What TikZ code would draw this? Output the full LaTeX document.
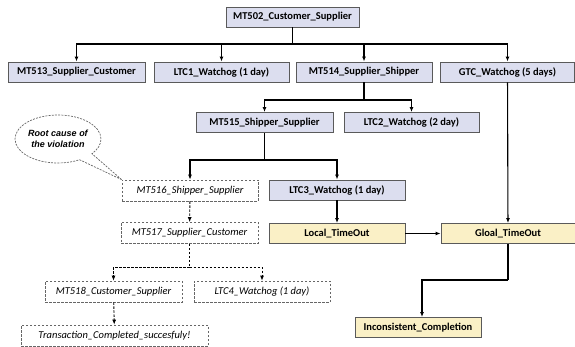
\documentclass[tikz,border=0pt]{standalone}
\usepackage{fontspec}
\setmainfont{Carlito}
\newfontfamily\calloutfont{Liberation Sans}
\usetikzlibrary{arrows.meta,shapes.callouts}
\definecolor{lav}{HTML}{DCDEEF}
\definecolor{sand}{HTML}{FAF0C6}
\definecolor{edgegray}{HTML}{5A5A5A}
\tikzset{
  box/.style={draw=edgegray, line width=0.9pt, minimum height=20pt, inner sep=0pt, font=\fontsize{10.5}{12}\selectfont\bfseries},
  msgbox/.style={box, fill=lav},
  outbox/.style={box, fill=sand},
  ghost/.style={draw=gray!80!black, dashed, dash pattern=on 2.5pt off 1.5pt, line width=0.7pt, minimum height=21pt, inner sep=0pt, font=\fontsize{10.5}{12}\selectfont\itshape},
  arr/.style={line width=1.1pt, -{Latex[length=5pt,width=4pt]}},
  link/.style={line width=1.1pt},
  darr/.style={line width=0.9pt, dash pattern=on 2.5pt off 1.5pt, -{Latex[length=5pt,width=4pt]}},
  dlink/.style={line width=0.9pt, dash pattern=on 2.5pt off 1.5pt},
}
\begin{document}
\begin{tikzpicture}[x=1pt,y=-1pt]
\useasboundingbox (0,0) rectangle (575,347);

% message and watchdog boxes
\node[msgbox, minimum width=133pt] (mt502) at (292.5,17) {MT502\_Customer\_Supplier};
\node[msgbox, minimum width=137pt] (mt513) at (76.5,72) {MT513\_Supplier\_Customer};
\node[msgbox, minimum width=135pt] (ltc1) at (221.5,72) {LTC1\_Watchog (1 day)};
\node[msgbox, minimum width=136pt] (mt514) at (364,72) {MT514\_Supplier\_Shipper};
\node[msgbox, minimum width=134pt] (gtc) at (507.5,72) {GTC\_Watchog (5 days)};
\node[msgbox, minimum width=137pt] (mt515) at (264.5,122.5) {MT515\_Shipper\_Supplier};
\node[msgbox, minimum width=135pt] (ltc2) at (411.5,122.5) {LTC2\_Watchog (2 day)};
\node[msgbox, minimum width=136pt] (ltc3) at (337,190) {LTC3\_Watchog (1 day)};

% timeout outcomes
\node[outbox, minimum width=136pt] (local) at (337,233.5) {Local\_TimeOut};
\node[outbox, minimum width=134pt] (gloal) at (508,233.5) {Gloal\_TimeOut};
\node[outbox, minimum width=126pt] (incons) at (418,327.5) {Inconsistent\_Completion};

% the path that never happened
\node[ghost, minimum width=136pt] (mt516) at (190,190.5) {MT516\_Shipper\_Supplier};
\node[ghost, minimum width=137pt] (mt517) at (189.5,233) {MT517\_Supplier\_Customer};
\node[ghost, minimum width=137pt] (mt518) at (113.5,291.5) {MT518\_Customer\_Supplier};
\node[ghost, minimum width=136pt] (ltc4) at (262,291.5) {LTC4\_Watchog (1 day)};
\node[ghost, minimum width=187pt] (done) at (114.5,335.5) {Transaction\_Completed\_succesfuly!};

% callout
\node[ellipse callout, draw=gray!80!black, dashed, dash pattern=on 2pt off 1.2pt, line width=0.7pt,
      minimum width=86pt, minimum height=48pt, inner sep=0pt, callout pointer arc=22,
      callout absolute pointer={(mt516.north west)},
      align=center, font=\calloutfont\fontsize{9}{11}\selectfont\bfseries\itshape] (cause) at (58,139)
  {Root cause of\\the violation};

% tree connectors
\coordinate (j1) at (292.5,44);
\draw[link] (mt502) -- (j1);
\draw[arr] (j1) -| (mt513);
\draw[arr] (j1) -| (ltc1);
\draw[arr] (j1) -| (mt514);
\draw[arr] (j1) -| (gtc);

\coordinate (j2) at (364,100);
\draw[link] (mt514) -- (j2);
\draw[arr] (j2) -| (mt515);
\draw[arr] (j2) -| (ltc2);

\coordinate (j3) at (264.5,160);
\draw[link] (mt515) -- (j3);
\draw[arr] (j3) -| (mt516);
\draw[arr] (j3) -| (ltc3);

\draw[darr] (mt516) -- (mt517);
\coordinate (j4) at (189.5,267);
\draw[dlink] (mt517) -- (j4);
\draw[darr] (j4) -| (mt518);
\draw[darr] (j4) -| (ltc4);
\draw[darr] (mt518) -- (done);

\draw[arr] (ltc3) -- (local);
\draw[arr] (local) -- (gloal);
\draw[arr] (gtc) -- (gloal);
\coordinate (j5) at (508,280);
\draw[link] (gloal) -- (j5);
\draw[arr] (j5) -| ([xshift=4pt]incons.north);
\end{tikzpicture}
\end{document}
